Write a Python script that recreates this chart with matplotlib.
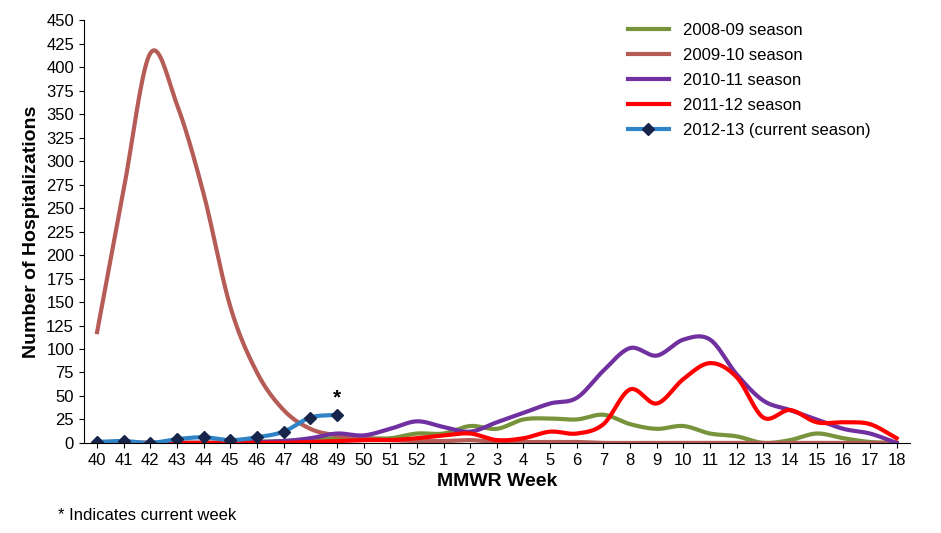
import numpy as np
import matplotlib
matplotlib.use("Agg")
import matplotlib.pyplot as plt

plt.rcParams['font.family'] = ['Liberation Sans Narrow', 'Liberation Sans', 'DejaVu Sans']

weeks = [str(w) for w in range(40, 53)] + [str(w) for w in range(1, 19)]

s0809 = [0, 0, 0, 0, 0, 0, 1, 2, 3, 5, 5, 5, 10, 10, 18, 15, 25, 26, 25, 30, 20, 15, 18, 10, 7, 0, 3, 10, 5, 1, 0]
s0910 = [118, 270, 415, 360, 265, 145, 75, 35, 15, 8, 5, 3, 2, 2, 3, 1, 1, 1, 1, 0, 0, 0, 0, 0, 0, 0, 0, 0, 0, 0, 0]
s1011 = [0, 0, 0, 0, 0, 0, 1, 2, 5, 10, 8, 15, 23, 17, 12, 22, 32, 42, 48, 77, 101, 93, 110, 110, 73, 45, 35, 25, 15, 10, 0]
s1112 = [0, 0, 0, 0, 0, 0, 0, 0, 1, 2, 3, 3, 5, 8, 10, 3, 5, 12, 10, 20, 57, 42, 68, 85, 70, 27, 35, 22, 22, 20, 5]
s1213 = [1, 2, 0, 4, 6, 3, 6, 12, 27, 30]


def smooth(y, n=20):
    """Catmull-Rom curve through the points, like Excel's smoothed line."""
    y = np.asarray(y, float)
    x = np.arange(len(y), dtype=float)
    px = np.concatenate([[2 * x[0] - x[1]], x, [2 * x[-1] - x[-2]]])
    py = np.concatenate([[2 * y[0] - y[1]], y, [2 * y[-1] - y[-2]]])
    xs, ys = [], []
    t = np.linspace(0, 1, n, endpoint=False)
    for i in range(1, len(px) - 2):
        for p, out in ((px, xs), (py, ys)):
            p0, p1, p2, p3 = p[i - 1], p[i], p[i + 1], p[i + 2]
            out.extend(0.5 * (2 * p1 + (-p0 + p2) * t + (2 * p0 - 5 * p1 + 4 * p2 - p3) * t ** 2
                              + (-p0 + 3 * p1 - 3 * p2 + p3) * t ** 3))
    xs.append(x[-1]); ys.append(y[-1])
    return np.array(xs), np.array(ys)


fig, ax = plt.subplots(figsize=(9.41, 5.33), dpi=100)
fig.subplots_adjust(left=0.089, right=0.967, top=0.962, bottom=0.169)

series = [(s0809, "#77933C", "2008-09 season"),
          (s0910, "#B65C56", "2009-10 season"),
          (s1011, "#7030A0", "2010-11 season"),
          (s1112, "#FF0000", "2011-12 season")]
for vals, col, lab in series:
    xs, ys = smooth(vals)
    ax.plot(xs, ys, color=col, lw=3, label=lab)

xs, ys = smooth(s1213)
ax.plot(xs, ys, color="#2E84C6", lw=3)
ax.plot(range(len(s1213)), s1213, ls="none", marker="D", ms=6, color="#17254A")
ax.plot([], [], color="#2E84C6", lw=3, marker="D", ms=6, mfc="#17254A", mec="#17254A",
        label="2012-13 (current season)")
ax.text(9, 38, "*", ha="center", va="bottom", fontsize=15, fontweight="bold")

ax.set_xlim(-0.5, len(weeks) - 0.5)
ax.set_ylim(0, 450)
ax.set_xticks(range(len(weeks)))
ax.set_xticklabels(weeks)
ax.set_yticks(range(0, 451, 25))
ax.tick_params(labelsize=12)
for s in ("top", "right"):
    ax.spines[s].set_visible(False)
ax.set_xlabel("MMWR Week", fontsize=14, fontweight="bold")
ax.set_ylabel("Number of Hospitalizations", fontsize=14, fontweight="bold")
ax.legend(loc="upper right", frameon=False, fontsize=12, handlelength=2.5,
          bbox_to_anchor=(0.97, 1.03), labelspacing=0.6)
fig.text(0.062, 0.025, "* Indicates current week", fontsize=12)

fig.savefig("out.png", dpi=100)
